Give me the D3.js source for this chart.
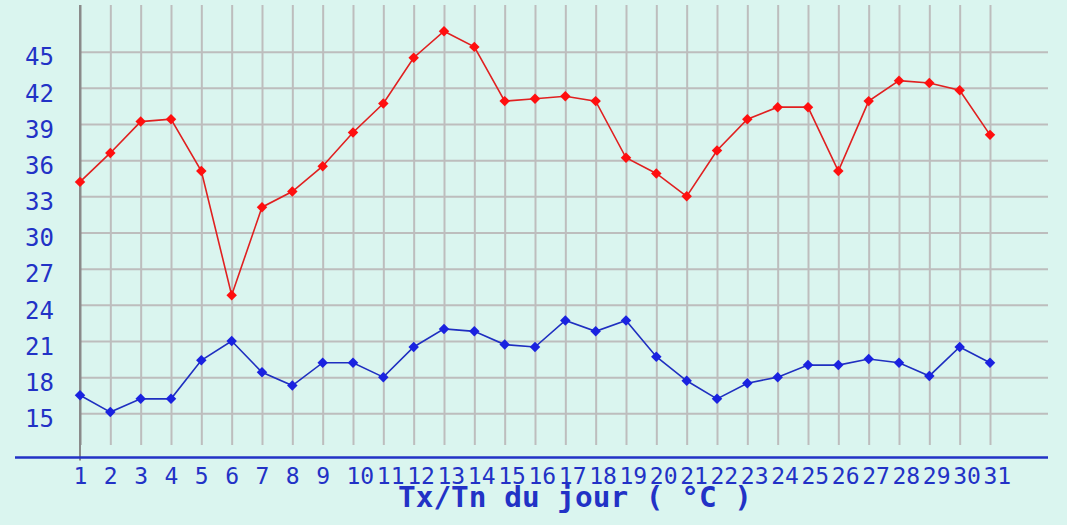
<!doctype html>
<html>
<head>
<meta charset="UTF-8">
<title>Tx/Tn du jour</title>
<script src="https://d3js.org/d3.v7.min.js"></script>
<style>
  body{margin:0;background:#daf5ef;}
  svg{display:block;}
  text{font-family:"DejaVu Sans Mono",monospace;fill:#2232c6;}
</style>
</head>
<body>
<svg id="chart" width="1067" height="525"></svg>
<script>
// data
var days = [1,2,3,4,5,6,7,8,9,10,11,12,13,14,15,16,17,18,19,20,21,22,23,24,25,26,27,28,29,30,31];
var tx = [34.2,36.6,39.2,39.4,35.1,24.8,32.1,33.4,35.5,38.3,40.7,44.5,46.7,45.4,40.9,41.1,41.3,40.9,36.2,34.9,
          33.0,36.8,39.4,40.4,40.4,35.1,40.9,42.6,42.4,41.8,38.1];
var tn = [16.5,15.1,16.2,16.2,19.4,21.0,18.4,17.3,19.2,19.2,18.0,20.5,22.0,21.8,20.7,20.5,22.7,21.8,22.7,19.7,
          17.7,16.2,17.5,18.0,19.0,19.0,19.5,19.2,18.1,20.5,19.2];
var yTicks = [15,18,21,24,27,30,33,36,39,42,45];
var title = "Tx/Tn du jour ( °C )";

var svg = d3.select("#chart");
var gridTop = 5, gridBottom = 445, gridRight = 1048, axisY = 457.5;

var x = d3.scaleLinear().domain([1,31]).range([80,990]);
var y = d3.scaleLinear().domain([15,45]).range([413.3,51.7]);

// horizontal grid
svg.append("g")
  .attr("transform","translate(80,0)")
  .call(d3.axisRight(y).tickValues(yTicks).tickSize(gridRight-80).tickFormat(""))
  .call(function(g){
    g.select(".domain").remove();
    g.selectAll("line").attr("stroke","#bdbdbd").attr("stroke-width",2);
  });

// vertical grid
svg.append("g")
  .attr("transform","translate(0,"+gridBottom+")")
  .call(d3.axisTop(x).tickValues(days).tickSize(gridBottom-gridTop).tickFormat(""))
  .call(function(g){
    g.select(".domain").remove();
    g.selectAll("line").attr("stroke",function(d){return d===1?"#8a8a8a":"#bdbdbd";})
      .attr("stroke-width",2);
  });

// y axis vertical line down past x axis
svg.append("line")
  .attr("x1",x(1)).attr("x2",x(1))
  .attr("y1",gridTop).attr("y2",axisY+3)
  .attr("stroke","#8a8a8a").attr("stroke-width",2);

// x axis line
svg.append("line")
  .attr("x1",15).attr("x2",gridRight)
  .attr("y1",axisY).attr("y2",axisY)
  .attr("stroke","#2232c6").attr("stroke-width",2.5);

// y labels
svg.append("g")
  .attr("transform","translate(54,0)")
  .call(d3.axisLeft(y).tickValues(yTicks).tickSize(0).tickPadding(0))
  .call(function(g){
    g.select(".domain").remove();
    g.selectAll("text")
      .attr("fill","#2232c6")
      .attr("font-family","DejaVu Sans Mono")
      .attr("font-size",24)
      .attr("dy","0.8em")
      .attr("y",-6);
  });

// x labels (start at tick minus half a character, so 2-digit labels run together)
svg.append("g")
  .attr("transform","translate(0,"+(axisY+2)+")")
  .call(d3.axisBottom(x).tickValues(days).tickSize(0).tickPadding(0))
  .call(function(g){
    g.select(".domain").remove();
    g.selectAll("text")
      .attr("fill","#2232c6")
      .attr("font-family","DejaVu Sans Mono")
      .attr("font-size",23)
      .attr("text-anchor","start")
      .attr("x",-7)
      .attr("dy",0)
      .attr("y",24.5);
  });

// title
svg.append("text")
  .attr("x",398).attr("y",507)
  .attr("font-size",28)
  .attr("font-weight","bold")
  .attr("textLength",354)
  .attr("lengthAdjust","spacingAndGlyphs")
  .text(title);

function drawSeries(vals, lineColor, dotColor){
  var line = d3.line().x(function(d,i){return x(days[i]);}).y(function(d){return y(d);});
  svg.append("path").datum(vals)
    .attr("d",line)
    .attr("fill","none")
    .attr("stroke",lineColor)
    .attr("stroke-width",1.6);
  svg.append("g").selectAll("path").data(vals).enter().append("path")
    .attr("d",d3.symbol().type(d3.symbolDiamond2).size(70))
    .attr("transform",function(d,i){return "translate("+x(days[i])+","+y(d)+")";})
    .attr("fill",dotColor);
}
drawSeries(tx,"#e02020","#ff0f0f");
drawSeries(tn,"#1f2fc0","#1a22e0");
</script>
</body>
</html>
